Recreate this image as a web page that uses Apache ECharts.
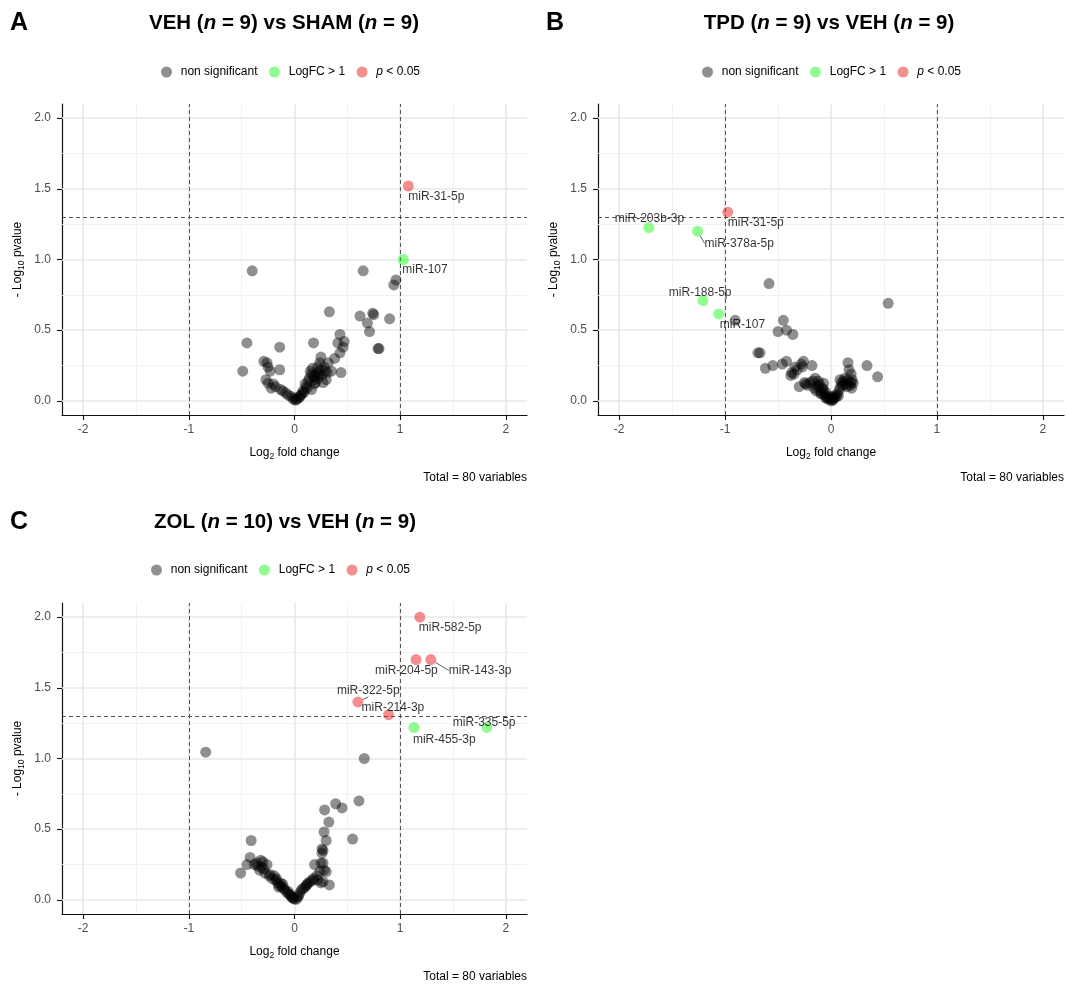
<!DOCTYPE html>
<html>
<head>
<meta charset="utf-8">
<script src="https://cdn.jsdelivr.net/npm/echarts@6/dist/echarts.min.js"></script>
<style>
  html, body { margin: 0; padding: 0; background: #fff; }
  #chart { width: 1067px; height: 984px; }
</style>
</head>
<body>
<div id="chart"></div>
<script>
// axis ticks and reference lines
const xTicks = [-2, -1, 0, 1, 2];
const xMinor = [-1.5, -0.5, 0.5, 1.5];
const yTicks = [0, 0.5, 1, 1.5, 2];
const yMinor = [0.25, 0.75, 1.25, 1.75];
const fcCut = [-1, 1];
const pCut = -Math.log10(0.05);

const panelTitles = [
  ['VEH', '9', 'SHAM', '9'],
  ['TPD', '9', 'VEH', '9'],
  ['ZOL', '10', 'VEH', '9']
];
const panelLetters = ['A', 'B', 'C'];

// VEH vs SHAM
const vehShamNs = [
  [-0.40,0.92],[-0.45,0.41],[-0.49,0.21],[-0.14,0.38],[-0.29,0.28],[-0.26,0.27],[-0.25,0.24],[-0.23,0.21],
  [-0.14,0.22],[-0.27,0.15],[-0.25,0.125],[-0.22,0.09],[-0.18,0.10],[-0.13,0.08],[-0.11,0.07],[-0.08,0.055],
  [-0.06,0.04],[-0.03,0.03],[-0.01,0.01],[0.01,0.005],[0.02,0.01],[0.04,0.02],[0.05,0.03],[0.07,0.05],
  [0.08,0.07],[0.10,0.12],[0.11,0.10],[0.13,0.14],[0.14,0.16],[0.16,0.08],[0.16,0.19],[0.17,0.23],
  [0.18,0.41],[0.18,0.17],[0.19,0.15],[0.20,0.18],[0.20,0.13],[0.21,0.20],[0.22,0.24],[0.22,0.16],
  [0.23,0.19],[0.24,0.27],[0.25,0.31],[0.25,0.22],[0.26,0.18],[0.27,0.13],[0.28,0.24],[0.29,0.21],
  [0.30,0.15],[0.31,0.20],[0.32,0.27],[0.33,0.63],[0.35,0.21],[0.38,0.30],[0.41,0.41],[0.43,0.47],
  [0.43,0.34],[0.44,0.20],[0.46,0.38],[0.47,0.42],[0.62,0.60],[0.65,0.92],[0.69,0.55],[0.71,0.49],
  [0.74,0.62],[0.75,0.61],[0.79,0.37],[0.80,0.37],[0.90,0.58],[0.94,0.82],[0.96,0.855],[-0.20,0.12],
  [0.12,0.09],[0.06,0.04],[0.15,0.21],[0.09,0.06],[0.00,0.02],[0.19,0.12]
];
const vehShamFc = [[1.03, 1.00, 'miR-107']];
const vehShamP = [[1.077, 1.52, 'miR-31-5p']];

// TPD vs VEH
const tpdVehNs = [
  [-0.585,0.83],[-0.905,0.57],[-0.45,0.57],[-0.50,0.49],[-0.42,0.50],[-0.36,0.47],[0.54,0.69],[-0.69,0.34],
  [-0.67,0.34],[-0.62,0.23],[-0.55,0.25],[-0.42,0.28],[-0.34,0.24],[-0.26,0.28],[-0.27,0.24],[-0.18,0.25],
  [-0.38,0.18],[-0.37,0.20],[-0.30,0.10],[-0.22,0.11],[-0.15,0.16],[-0.12,0.14],[-0.07,0.125],[-0.10,0.054],
  [-0.08,0.09],[-0.13,0.10],[-0.11,0.12],[-0.09,0.07],[-0.06,0.04],[-0.05,0.06],[-0.04,0.02],[-0.03,0.03],
  [-0.02,0.01],[0.00,0.00],[0.01,0.01],[0.02,0.005],[0.03,0.02],[0.05,0.03],[0.07,0.035],[0.06,0.05],
  [0.16,0.27],[0.17,0.22],[0.085,0.15],[0.10,0.13],[0.12,0.14],[0.21,0.125],[0.195,0.09],[0.34,0.25],
  [0.44,0.17],[0.15,0.10],[0.18,0.11],[0.20,0.15],[0.13,0.16],[0.09,0.10],[-0.20,0.13],[-0.24,0.12],
  [-0.16,0.09],[-0.14,0.07],[-0.01,0.02],[0.04,0.04],[-0.07,0.08],[-0.32,0.22],[-0.35,0.19],[-0.28,0.26],
  [-0.46,0.26],[0.14,0.12],[0.19,0.13],[0.11,0.11],[0.16,0.15],[-0.12,0.11],[-0.09,0.05],[0.00,0.03],
  [0.02,0.02],[-0.05,0.02],[0.08,0.08],[0.19,0.19],[-0.17,0.14],[-0.25,0.13]
];
const tpdVehFc = [
  [-1.72, 1.225, 'miR-203b-3p'], [-1.26, 1.20, 'miR-378a-5p'],
  [-1.21, 0.71, 'miR-188-5p'], [-1.06, 0.615, 'miR-107']
];
const tpdVehP = [[-0.975, 1.335, 'miR-31-5p']];

// ZOL vs VEH
const zolVehNs = [
  [-0.84,1.045],[-0.41,0.42],[-0.42,0.30],[-0.45,0.25],[-0.51,0.19],[-0.32,0.28],[-0.30,0.27],[-0.26,0.25],
  [-0.33,0.21],[-0.31,0.23],[-0.28,0.19],[-0.35,0.24],[-0.24,0.17],[-0.19,0.17],[-0.17,0.15],[-0.16,0.12],
  [-0.14,0.10],[-0.12,0.094],[-0.10,0.08],[-0.09,0.07],[-0.07,0.05],[-0.05,0.04],[-0.03,0.02],[-0.01,0.01],
  [0.00,0.005],[0.02,0.005],[0.04,0.03],[0.066,0.07],[0.08,0.08],[0.10,0.09],[0.13,0.12],[0.15,0.13],
  [0.175,0.15],[0.19,0.25],[0.21,0.17],[0.25,0.26],[0.25,0.12],[0.27,0.35],[0.28,0.21],[0.27,0.13],
  [0.30,0.42],[0.28,0.48],[0.325,0.55],[0.285,0.636],[0.39,0.68],[0.45,0.65],[0.55,0.43],[0.61,0.70],
  [0.33,0.106],[0.26,0.36],[0.66,1.0],[0.27,0.26],[0.24,0.20],[0.22,0.14],[0.11,0.10],[0.05,0.05],
  [-0.02,0.02],[-0.06,0.06],[-0.11,0.11],[-0.18,0.14],[-0.21,0.15],[-0.36,0.26],[-0.38,0.25],[-0.29,0.22],
  [0.26,0.33],[0.30,0.20],[0.03,0.02],[-0.04,0.035],[0.12,0.11],[-0.23,0.18],[-0.13,0.12],[0.18,0.14],
  [-0.15,0.09]
];
const zolVehFc = [[1.13, 1.22, 'miR-455-3p'], [1.82, 1.22, 'miR-335-5p']];
const zolVehP = [
  [1.186, 2.00, 'miR-582-5p'], [1.15, 1.70, 'miR-204-5p'], [1.29, 1.70, 'miR-143-3p'],
  [0.60, 1.40, 'miR-322-5p'], [0.89, 1.31, 'miR-214-3p']
];

// label placement (offset of text top-left from point centre), per panel
const labelPlacement = [
  { 'miR-31-5p': [0, 5], 'miR-107': [-1, 4] },
  { 'miR-31-5p': [0, 5], 'miR-203b-3p': [-34, -15], 'miR-378a-5p': [7, 6, true],
    'miR-188-5p': [-34, -14], 'miR-107': [1, 5] },
  { 'miR-582-5p': [-1, 5], 'miR-204-5p': [-41, 5], 'miR-143-3p': [18, 5, true],
    'miR-322-5p': [-21, -17, true], 'miR-214-3p': [-27, -13], 'miR-455-3p': [-1, 6], 'miR-335-5p': [-34, -11] }
];

const panels = [
  { ns: vehShamNs, fc: vehShamFc, p: vehShamP, left: 62, top: 104, width: 465, titleX: 284 },
  { ns: tpdVehNs, fc: tpdVehFc, p: tpdVehP, left: 598, top: 104, width: 466, titleX: 829 },
  { ns: zolVehNs, fc: zolVehFc, p: zolVehP, left: 62, top: 603, width: 465, titleX: 285 }
];
const legendPos = [[156, 61], [697, 61], [146, 559]];

const FONT = 'Liberation Sans, Arial, sans-serif';
const NS = 'non significant', FC = 'LogFC > 1', PV = 'p < 0.05';

const grid = [], xAxis = [], yAxis = [], series = [], legend = [], graphic = [];

function labelled(list, idx) {
  return list.map(d => {
    const pl = labelPlacement[idx][d[2]] || [0, 5];
    const item = {
      value: [d[0], d[1]],
      name: d[2],
      label: {
        show: true, formatter: '{b}', position: 'inside', align: 'left', verticalAlign: 'top',
        offset: [pl[0], pl[1]], color: '#000', fontSize: 12, fontFamily: FONT
      }
    };
    if (pl[2]) item.labelLine = { show: true, lineStyle: { color: '#333', width: 0.8 } };
    return item;
  });
}

const nameRich = {
  a: { fontSize: 12, color: '#000', fontFamily: FONT, lineHeight: 16 },
  s: { fontSize: 8.5, color: '#000', fontFamily: FONT, lineHeight: 16, verticalAlign: 'bottom' }
};

panels.forEach((pn, i) => {
  grid.push({ left: pn.left, top: pn.top, width: pn.width, height: 311 });
  xAxis.push({
    type: 'value', gridIndex: i, min: -2.2, max: 2.2,
    name: '{a|Log}{s|2}{a| fold change}', nameLocation: 'middle', nameGap: 30,
    nameTextStyle: { rich: nameRich },
    axisLine: { onZero: false, lineStyle: { color: '#111', width: 1.2 } },
    axisTick: { customValues: xTicks, length: 5, lineStyle: { color: '#111', width: 1.1 } },
    axisLabel: { customValues: xTicks, color: '#4d4d4d', fontSize: 12, fontFamily: FONT, margin: 9 },
    splitLine: { show: false }
  });
  yAxis.push({
    type: 'value', gridIndex: i, min: -0.1, max: 2.1,
    name: '{a|- Log}{s|10}{a| pvalue}', nameLocation: 'middle', nameGap: 36, nameRotate: 90,
    nameTextStyle: { rich: nameRich },
    axisLine: { onZero: false, lineStyle: { color: '#111', width: 1.2 } },
    axisTick: { customValues: yTicks, length: 5, lineStyle: { color: '#111', width: 1.1 } },
    axisLabel: { customValues: yTicks, color: '#4d4d4d', fontSize: 12, fontFamily: FONT, margin: 11,
                 formatter: v => v.toFixed(1) },
    splitLine: { show: false }
  });

  const major = { color: '#e8e8e8', width: 1.6, type: 'solid' };
  const minor = { color: '#efefef', width: 0.8, type: 'solid' };
  series.push({
    type: 'scatter', xAxisIndex: i, yAxisIndex: i, data: [], z: 1, silent: true,
    markLine: {
      z: 1, silent: true, symbol: 'none', animation: false, label: { show: false },
      data: [
        ...xMinor.map(v => ({ xAxis: v, lineStyle: minor })),
        ...yMinor.map(v => ({ yAxis: v, lineStyle: minor })),
        ...xTicks.map(v => ({ xAxis: v, lineStyle: major })),
        ...yTicks.map(v => ({ yAxis: v, lineStyle: major }))
      ]
    }
  });
  series.push({
    type: 'scatter', xAxisIndex: i, yAxisIndex: i, data: [], z: 2, silent: true,
    markLine: {
      z: 2, silent: true, symbol: 'none', animation: false, label: { show: false },
      lineStyle: { color: '#444', width: 0.9, type: [4, 3] },
      data: [...fcCut.map(v => ({ xAxis: v })), { yAxis: pCut }]
    }
  });
  const common = { type: 'scatter', xAxisIndex: i, yAxisIndex: i, symbolSize: 11, z: 10,
                   emphasis: { disabled: true }, animation: false };
  series.push(Object.assign({ name: NS, data: pn.ns, itemStyle: { color: 'rgba(0,0,0,0.55)' } }, common));
  series.push(Object.assign({ name: FC, data: labelled(pn.fc, i), itemStyle: { color: 'rgba(0,250,0,0.55)' } }, common));
  series.push(Object.assign({ name: PV, data: labelled(pn.p, i), itemStyle: { color: 'rgba(232,20,20,0.6)' } }, common));

  legend.push({
    left: legendPos[i][0], top: legendPos[i][1], data: [NS, FC, PV], icon: 'circle',
    itemWidth: 18.5, itemHeight: 11, itemGap: 11.5, selectedMode: false,
    formatter: n => n === PV ? '{i|p} < 0.05' : n,
    textStyle: { fontSize: 12, color: '#000', fontFamily: FONT,
                 rich: { i: { fontStyle: 'italic', fontSize: 12, fontFamily: FONT, color: '#000' } } }
  });

  const t = panelTitles[i];
  graphic.push({
    type: 'text', x: pn.titleX, y: pn.top - 81,
    style: {
      text: `{b|${t[0]} (}{bi|n}{b| = ${t[1]}) vs ${t[2]} (}{bi|n}{b| = ${t[3]})}`,
      align: 'center', verticalAlign: 'middle',
      rich: { b: { fontSize: 20.5, fontWeight: 'bold', fontFamily: FONT, fill: '#000' },
              bi: { fontSize: 20.5, fontWeight: 'bold', fontStyle: 'italic', fontFamily: FONT, fill: '#000' } }
    }
  });
  graphic.push({
    type: 'text', x: pn.left - 52, y: pn.top - 81,
    style: { text: panelLetters[i], fontSize: 25, fontWeight: 'bold', fontFamily: FONT, fill: '#000',
             verticalAlign: 'middle' }
  });
  graphic.push({
    type: 'text', x: pn.left + pn.width, y: pn.top + 374,
    style: { text: 'Total = 80 variables', fontSize: 12, fontFamily: FONT, fill: '#000',
             align: 'right', verticalAlign: 'middle' }
  });
});

const chart = echarts.init(document.getElementById('chart'), null, { renderer: 'canvas' });
chart.setOption({
  backgroundColor: '#fff',
  animation: false,
  grid, xAxis, yAxis, series, legend, graphic
});
</script>
</body>
</html>
